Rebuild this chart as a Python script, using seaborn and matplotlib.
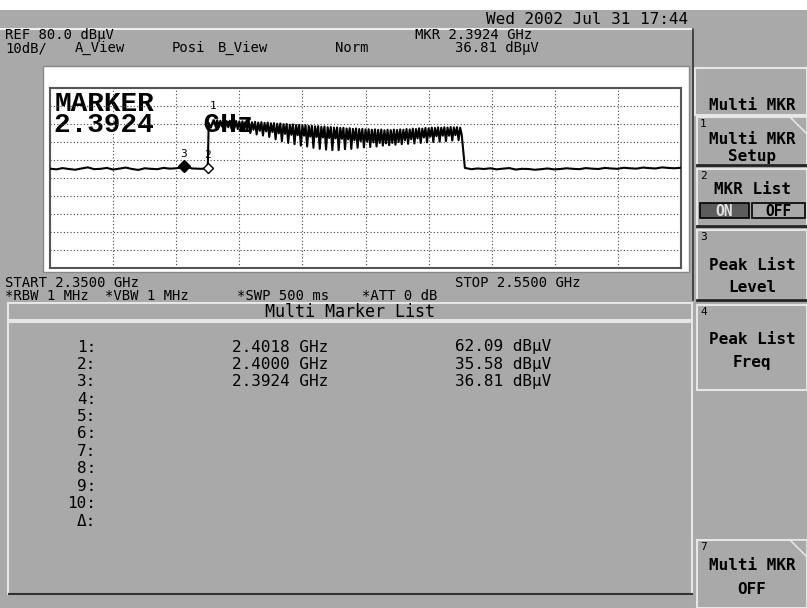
import numpy as np
import pandas as pd
import seaborn as sns
import matplotlib.pyplot as plt
from matplotlib.patches import Rectangle, Polygon

# --- trace data (dBuV) ---
noise_left_f = np.linspace(2.350, 2.392, 22)
noise_left_db = [35.2, 34.8, 35.5, 35.0, 34.6, 35.3, 35.9, 34.9, 35.1, 35.6, 34.7,
                 35.2, 35.8, 35.0, 34.5, 35.4, 35.1, 34.9, 35.6, 35.2, 35.4, 35.9]

edge_f = [2.3924, 2.3950, 2.3980, 2.4000, 2.4003, 2.4010, 2.4018]
edge_db = [36.81, 35.3, 35.1, 35.58, 60.5, 58.0, 62.09]

chan_f = np.linspace(2.402, 2.480, 79)
chan_peak_db = [62.0, 62.1, 61.8, 61.9, 61.6, 61.8, 61.5, 61.7, 61.4,
                61.5, 61.2, 61.3, 61.0, 61.2, 60.8, 61.0, 60.6, 60.8, 60.4,
                60.5, 60.1, 60.3, 59.9, 60.0, 59.6, 59.8, 59.4, 59.5, 59.2,
                59.3, 58.9, 59.0, 58.7, 58.8, 58.4, 58.6, 58.2, 58.3, 58.0,
                58.1, 57.8, 57.9, 57.5, 57.7, 57.3, 57.5, 57.2, 57.3, 57.0,
                57.1, 56.8, 57.0, 56.7, 56.9, 56.5, 56.8, 56.6, 56.9, 56.7,
                57.0, 56.8, 57.2, 57.0, 57.4, 57.2, 57.6, 57.4, 57.8, 57.6,
                58.0, 57.8, 58.1, 57.9, 58.2, 58.0, 58.3, 58.1, 58.2, 58.0]
chan_dip_db = [58.5, 58.0, 58.6, 57.8, 58.2, 57.4, 57.9, 57.2, 57.6,
               56.0, 57.2, 55.0, 56.8, 54.2, 56.2, 53.6, 55.9, 52.8, 55.5,
               51.5, 54.8, 50.5, 54.5, 49.5, 54.0, 48.8, 53.8, 48.0, 53.5,
               47.5, 53.0, 46.8, 52.8, 46.2, 52.5, 45.8, 52.2, 45.5, 52.0,
               45.5, 51.8, 46.0, 51.5, 46.2, 51.0, 46.8, 50.5, 47.0, 50.2,
               47.2, 49.8, 47.5, 49.5, 48.0, 49.2, 48.2, 49.5, 48.5, 50.0,
               48.8, 51.0, 49.0, 51.5, 49.2, 52.0, 49.5, 52.5, 49.8, 53.0,
               50.0, 53.2, 50.2, 53.5, 50.5, 53.5, 50.8, 53.8, 51.0, 54.0]

noise_right_f = np.linspace(2.4815, 2.550, 35)
noise_right_db = [35.6, 34.9, 35.3, 35.0, 35.4, 34.8, 35.2, 35.5, 34.7, 35.1, 35.0, 34.6,
                  34.9, 35.3, 34.8, 35.0, 35.4, 35.1, 34.9, 35.5, 35.2, 35.0, 35.6, 35.3,
                  35.1, 35.7, 35.4, 35.2, 35.8, 35.5, 35.3, 35.9, 35.6, 35.4, 35.7]

mkr_no = ["1", "2", "3"]
mkr_freq = [2.4018, 2.4000, 2.3924]
mkr_level = [62.09, 35.58, 36.81]

# assemble the sweep
f_all, db_all = list(noise_left_f), list(noise_left_db)
f_all += edge_f
db_all += edge_db
for f, hi, lo in zip(chan_f, chan_peak_db, chan_dip_db):
    f_all += [f, f + 0.0005]
    db_all += [hi, lo]
f_all += list(noise_right_f)
db_all += noise_right_db
trace = pd.DataFrame({"freq": f_all, "level": db_all})

BG = "#a9a9a9"
MONO = "DejaVu Sans Mono"

fig = plt.figure(figsize=(8.07, 6.08), dpi=100)
fig.patch.set_facecolor(BG)

# pixel canvas for the screen furniture
bg = fig.add_axes([0, 0, 1, 1])
bg.set_xlim(0, 807)
bg.set_ylim(608, 0)
bg.axis("off")


def box(x0, y0, x1, y1, fc=BG, ec="#e6e6e6", lw=1.5, z=1):
    bg.add_patch(Rectangle((x0, y0), x1 - x0, y1 - y0, facecolor=fc, edgecolor=ec, lw=lw, zorder=z))


def txt(x, y, s, size=10, ha="left", color="black", weight="normal", family=MONO):
    bg.text(x, y, s, fontsize=size, ha=ha, va="center", color=color, weight=weight, family=family, zorder=5)


# white strip on top
box(0, 0, 807, 10, fc="white", ec="none", lw=0)
bg.plot([0, 693], [29, 29], color="#eeeeee", lw=1.5)
bg.plot([693, 693], [29, 300], color="#333333", lw=1.2)

txt(688, 19, "Wed 2002 Jul 31 17:44", size=11.5, ha="right")
txt(5, 35, "REF 80.0 dBμV")
txt(5, 48, "10dB/")
txt(75, 48, "A_View")
txt(172, 48, "Posi")
txt(218, 48, "B_View")
txt(335, 48, "Norm")
txt(415, 35, "MKR 2.3924 GHz")
txt(455, 48, "36.81 dBμV")

# white frame round the graticule
box(43, 66, 689, 272, fc="white", ec="#888888", lw=1)

txt(5, 283, "START 2.3500 GHz")
txt(455, 283, "STOP 2.5500 GHz")
txt(5, 296, "*RBW 1 MHz")
txt(105, 296, "*VBW 1 MHz")
txt(237, 296, "*SWP 500 ms")
txt(362, 296, "*ATT 0 dB")

# marker list
box(8, 303, 692, 320)
txt(350, 312, "Multi Marker List", size=12, ha="center")
box(8, 322, 692, 594)
bg.plot([9, 692], [594, 594], color="#333333", lw=1.5)
row_names = ["1:", "2:", "3:", "4:", "5:", "6:", "7:", "8:", "9:", "10:", "Δ:"]
row_y = [347, 364.4, 381.8, 399.2, 416.6, 434, 451.4, 468.8, 486.2, 503.6, 521]
for name, y in zip(row_names, row_y):
    txt(96, y, name, size=11.5, ha="right")
for i in range(len(mkr_no)):
    txt(232, row_y[i], f"{mkr_freq[i]:.4f} GHz", size=11.5)
    txt(455, row_y[i], f"{mkr_level[i]:.2f} dBμV", size=11.5)

# soft keys
box(695, 68, 807, 115, ec="#e6e6e6")
txt(752, 106, "Multi MKR", size=11.5, ha="center", weight="bold")
keys = [(117, 165, "1", ["Multi MKR", "Setup"], [139, 157], True),
        (169, 226, "2", ["MKR List"], [189], True),
        (230, 300, "3", ["Peak List", "Level"], [265, 287], True),
        (305, 390, "4", ["Peak List", "Freq"], [340, 363], False),
        (540, 608, "7", ["Multi MKR", "OFF"], [565, 590], False)]
for y0, y1, num, lines, ys, dark in keys:
    box(697, y0, 807, y1, ec="#e6e6e6")
    if dark:
        bg.plot([697, 807], [y1, y1], color="#222222", lw=2, zorder=2)
    txt(700, y0 + 7, num, size=8)
    for s, y in zip(lines, ys):
        txt(752, y, s, size=11.5, ha="center", weight="bold")
for y0 in [117, 540]:
    bg.add_patch(Polygon([[790, y0], [807, y0], [807, y0 + 17]], closed=True,
                         facecolor=BG, edgecolor="#e6e6e6", lw=1.2, zorder=3))
box(700, 203, 749, 218, fc="#5c5c5c", ec="black", lw=1.2, z=3)
txt(724, 211, "ON", size=10.5, ha="center", color="#e0e0e0", weight="bold")
box(752, 203, 805, 218, fc=BG, ec="black", lw=1.2, z=3)
txt(778, 211, "OFF", size=10.5, ha="center", weight="bold")

# --- graticule with the trace ---
ax = fig.add_axes([50 / 807, 1 - 268 / 608, 631 / 807, 180 / 608])
ax.set_facecolor("white")
ax.text(0.007, 0.985, "MARKER\n2.3924   GHz", transform=ax.transAxes, ha="left", va="top",
        family="Liberation Mono", fontsize=20, weight="bold", linespacing=0.78, zorder=1)
sns.lineplot(data=trace, x="freq", y="level", ax=ax, color="black", lw=1.5,
             sort=False, estimator=None, zorder=3)

# marker symbols
ax.plot(mkr_freq[2], mkr_level[2], marker="D", ms=6, color="black", zorder=4)
ax.plot(mkr_freq[1], mkr_level[1], marker="D", ms=5, mfc="white", mec="black", zorder=4)
label_off = [8.0, 7.0, 6.5]
for i in range(3):
    ax.text(mkr_freq[i], mkr_level[i] + label_off[i], mkr_no[i], fontsize=8, ha="center",
            va="center", family=MONO, zorder=4)

ax.set_xlim(2.35, 2.55)
ax.set_ylim(-20, 80)
ax.set_xticks(np.linspace(2.35, 2.55, 11))
ax.set_yticks(range(-20, 81, 10))
ax.grid(True, ls=(0, (1, 2)), color="#444444", lw=0.8)
ax.tick_params(length=0, labelbottom=False, labelleft=False)
ax.set_xlabel("")
ax.set_ylabel("")
for sp in ax.spines.values():
    sp.set_color("#555555")
    sp.set_linewidth(1.5)

plt.savefig("out.png", dpi=100, facecolor=BG)
